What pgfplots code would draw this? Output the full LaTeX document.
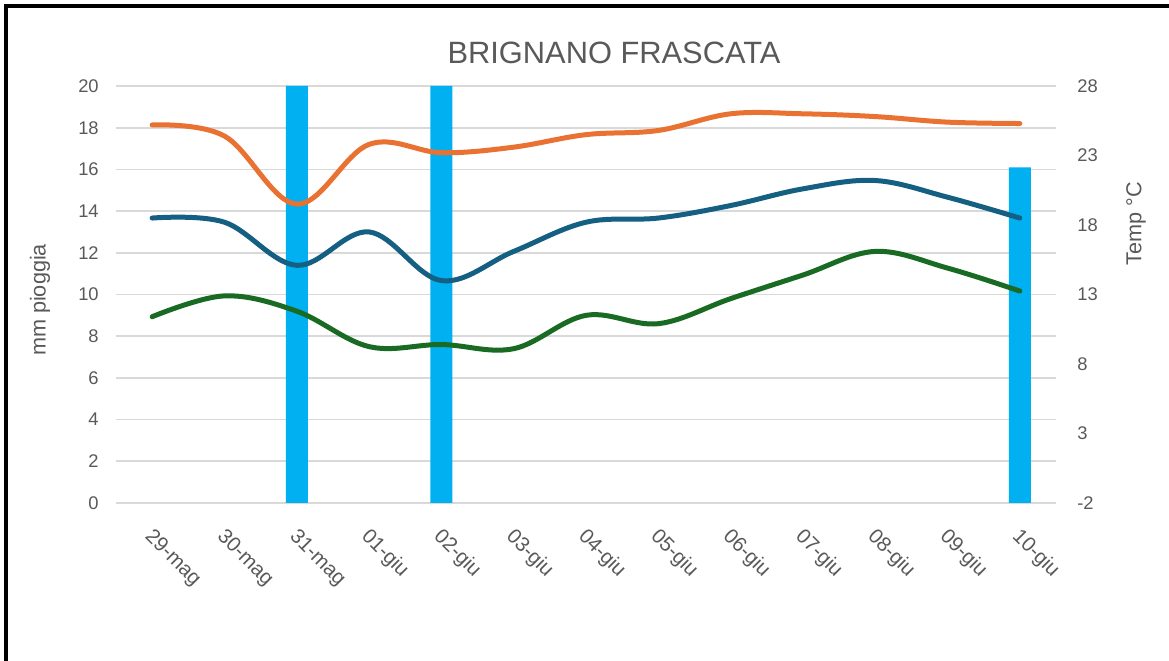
\documentclass[border=0pt]{standalone}
\usepackage{fontspec}
\setmainfont{Liberation Sans}
\usepackage{pgfplots}
\pgfplotsset{compat=1.18}
\definecolor{txt}{HTML}{595959}
\definecolor{gridc}{HTML}{D9D9D9}
\definecolor{barc}{HTML}{00B0F0}
\definecolor{tmax}{HTML}{E97132}
\definecolor{tmed}{HTML}{156082}
\definecolor{tmin}{HTML}{196B24}
\begin{document}
\begin{tikzpicture}[x=0.6pt,y=0.6pt]
\useasboundingbox (0,0) rectangle (1169,661);
\draw[line width=2.2pt,black] (6,-10) -- (6,655) -- (1180,655);
\begin{axis}[at={(69.6pt,94.8pt)}, anchor=south west, scale only axis,
  width=564pt, height=250.2pt,
  xmin=-0.5, xmax=12.5, ymin=0, ymax=20,
  ytick={0,2,...,20}, xtick={0,...,12},
  xticklabels={29-mag,30-mag,31-mag,01-giu,02-giu,03-giu,04-giu,05-giu,06-giu,07-giu,08-giu,09-giu,10-giu},
  axis line style={draw=none}, major tick length=0pt,
  ymajorgrids, grid style={gridc, line width=1pt},
  ticklabel style={font=\fontsize{11}{13}\selectfont, text=txt},
  /pgf/number format/assume math mode=true,
  yticklabel style={anchor=east, inner sep=0pt, xshift=-10.2pt},
  xticklabel style={font=\fontsize{12.3}{14}\selectfont, rotate=-45, anchor=north west, inner sep=0pt, xshift=11pt, yshift=-9pt},
]
\addplot[ybar, bar width=13.2pt, fill=barc, draw=none] coordinates {(2,20) (4,20) (12,16.1)};
\end{axis}
\begin{axis}[at={(69.6pt,94.8pt)}, anchor=south west, scale only axis,
  width=564pt, height=250.2pt,
  xmin=-0.5, xmax=12.5, ymin=-2, ymax=28,
  ytick={-2,3,...,28}, xtick=\empty,
  axis line style={draw=none}, major tick length=0pt,
  yticklabel pos=right,
  ticklabel style={font=\fontsize{11}{13}\selectfont, text=txt},
  /pgf/number format/assume math mode=true,
  yticklabel style={anchor=west, inner sep=0pt, xshift=12.6pt},
]
\addplot[tmax, line width=3pt, smooth, tension=0.6, line cap=round] coordinates {
(0,25.2) (1,24.4) (2,19.5) (3,23.8) (4,23.2) (5,23.6) (6,24.5) (7,24.8) (8,26.0) (9,26.0) (10,25.8) (11,25.4) (12,25.3)};
\addplot[tmed, line width=3pt, smooth, tension=0.6, line cap=round] coordinates {
(0,18.5) (1,18.2) (2,15.1) (3,17.5) (4,14.0) (5,16.1) (6,18.2) (7,18.5) (8,19.4) (9,20.6) (10,21.2) (11,20.0) (12,18.5)};
\addplot[tmin, line width=3pt, smooth, tension=0.6, line cap=round] coordinates {
(0,11.4) (1,12.9) (2,11.8) (3,9.25) (4,9.4) (5,9.1) (6,11.5) (7,10.9) (8,12.7) (9,14.4) (10,16.1) (11,14.9) (12,13.25)};
\end{axis}
\node[font=\fontsize{18.5}{20}\selectfont, text=txt] at (614,608) {BRIGNANO FRASCATA};
\node[rotate=90, font=\fontsize{13}{15}\selectfont, text=txt] at (40,361) {mm pioggia};
\node[rotate=90, font=\fontsize{13}{15}\selectfont, text=txt] at (1136,437.5) {Temp °C};
\end{tikzpicture}
\end{document}
